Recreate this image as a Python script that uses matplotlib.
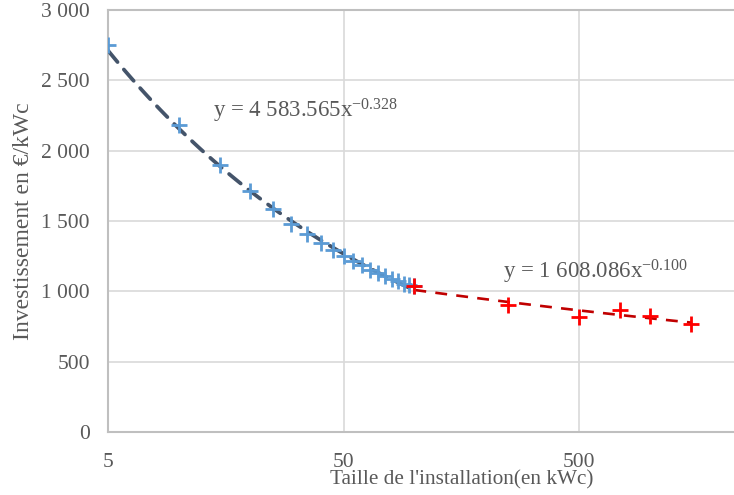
import numpy as np
import matplotlib
matplotlib.use("Agg")
import matplotlib.pyplot as plt
from matplotlib.ticker import FixedLocator, FuncFormatter, NullLocator

# données
taille_petit = [5, 10, 15, 20, 25, 30, 35, 40, 45, 50,
                55, 60, 65, 70, 75, 80, 85, 90, 95, 100]
invest_petit = [2750, 2180, 1900, 1715, 1585, 1480, 1410, 1345, 1295, 1250,
                1215, 1185, 1155, 1130, 1110, 1090, 1070, 1055, 1045, 1035]
taille_grand = [100, 250, 500, 750, 1000, 1500]
invest_grand = [1035, 900, 820, 870, 825, 770]

eq_petit = "y = 4 583.565x$^{-0.328}$"
eq_grand = "y = 1 608.086x$^{-0.100}$"
xticks = [5, 50, 500]
yticks = [0, 500, 1000, 1500, 2000, 2500, 3000]

plt.rcParams['font.family'] = ['Liberation Serif', 'DejaVu Serif']
plt.rcParams['mathtext.fontset'] = 'custom'
plt.rcParams['mathtext.rm'] = 'Liberation Serif'
plt.rcParams['mathtext.it'] = 'Liberation Serif'

gris = '#595959'

fig = plt.figure(figsize=(7.34, 4.95), dpi=100)
# l'axe dépasse à droite (graphique coupé dans l'original)
ax = fig.add_axes([108/734, 63/495, 706.5/734, 422/495])
ax.set_xscale('log')
ax.set_xlim(5, 5000)
ax.set_ylim(0, 3000)

def tendance(x, y):
    # régression puissance : log y = a log x + b
    a, b = np.polyfit(np.log(x), np.log(y), 1)
    xs = np.logspace(np.log10(min(x)), np.log10(max(x)), 100)
    return xs, np.exp(b) * xs ** a

xs, ys = tendance(taille_petit, invest_petit)
ax.plot(xs, ys, color='#44546A', lw=2.7, ls=(0, (4, 2.6)), zorder=3,
        solid_capstyle='round', dash_capstyle='round')
xs, ys = tendance(taille_grand, invest_grand)
ax.plot(xs, ys, color='#C00000', lw=1.9, ls=(0, (4.5, 3.5)), zorder=3)

ax.plot(taille_petit, invest_petit, ls='none', marker='+', ms=11, mew=2,
        color='#5B9BD5', zorder=4)
ax.plot(taille_grand, invest_grand, ls='none', marker='+', ms=11, mew=2,
        color='#FF0000', zorder=5)

ax.text(14.0, 2239, eq_petit, fontsize=16.5, color=gris, va='baseline', ha='left')
ax.text(238, 1094, eq_grand, fontsize=16.5, color=gris, va='baseline', ha='left')

ax.xaxis.set_major_locator(FixedLocator(xticks))
ax.xaxis.set_minor_locator(NullLocator())
ax.xaxis.set_major_formatter(FuncFormatter(lambda v, p: '%g' % v))
ax.yaxis.set_major_locator(FixedLocator(yticks))
ax.yaxis.set_major_formatter(FuncFormatter(lambda v, p: '{:,.0f}'.format(v).replace(',', ' ')))

ax.grid(True, color='#D9D9D9', lw=1.2)
ax.set_axisbelow(True)
for s in ax.spines.values():
    s.set_color('#BFBFBF')
    s.set_linewidth(1.5)
ax.tick_params(length=0, labelsize=15.5, colors=gris, pad=13)
ax.tick_params(axis='x', pad=15)

ax.set_xlabel("Taille de l'installation(en kWc)", fontsize=15.3, color=gris, labelpad=-1)
ax.set_ylabel("Investissement en €/kWc", fontsize=17, color=gris, labelpad=5)

fig.savefig('out.png', dpi=100)
